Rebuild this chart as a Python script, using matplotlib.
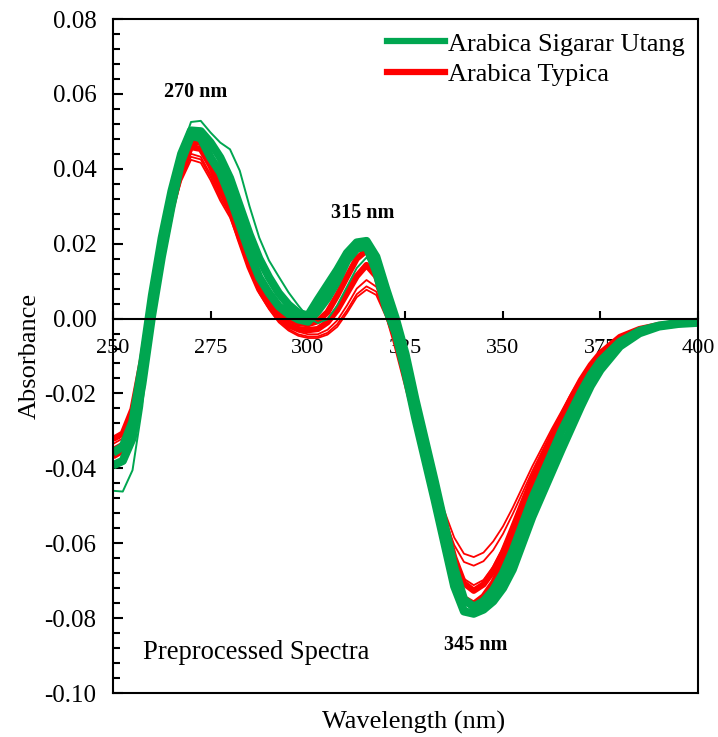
import matplotlib
matplotlib.use("Agg")
import matplotlib.pyplot as plt
from matplotlib.ticker import MultipleLocator, FormatStrFormatter
from matplotlib.lines import Line2D

plt.rcParams['font.family'] = ['Liberation Serif', 'DejaVu Serif']
plt.rcParams['axes.unicode_minus'] = False

wavelength = [250, 252.5, 255, 257.5, 260, 262.5, 265, 267.5, 270, 272.5, 275, 277.5, 280, 282.5,
              285, 287.5, 290, 292.5, 295, 297.5, 300, 302.5, 305, 307.5, 310, 312.5, 315, 317.5,
              320, 322.5, 325, 327.5, 330, 332.5, 335, 337.5, 340, 342.5, 345, 347.5, 350, 352.5,
              355, 357.5, 360, 362.5, 365, 367.5, 370, 372.5, 375, 380, 385, 390, 395, 400]

# Arabica Sigarar Utang (green): upper and lower edge of the main band, plus one outlier spectrum
sigarar_top = [-0.0358, -0.0342, -0.0275, -0.0120, 0.0062, 0.0215, 0.0340, 0.0440, 0.0502, 0.0500,
               0.0470, 0.0430, 0.0375, 0.0300, 0.0225, 0.0160, 0.0110, 0.0068, 0.0037, 0.0015,
               0.0008, 0.0050, 0.0090, 0.0130, 0.0175, 0.0203, 0.0207, 0.0165, 0.0080, 0.0000,
               -0.0095, -0.0215, -0.0325, -0.0435, -0.0550, -0.0665, -0.0750, -0.0770, -0.0755, -0.0725,
               -0.0680, -0.0620, -0.0550, -0.0480, -0.0420, -0.0360, -0.0300, -0.0248, -0.0196, -0.0150,
               -0.0113, -0.0062, -0.0033, -0.0019, -0.0012, -0.0009]
sigarar_bot = [-0.0392, -0.0380, -0.0320, -0.0175, 0.0008, 0.0165, 0.0300, 0.0420, 0.0488, 0.0482,
               0.0430, 0.0390, 0.0325, 0.0250, 0.0175, 0.0110, 0.0068, 0.0033, 0.0012, -0.0002,
               -0.0008, 0.0020, 0.0055, 0.0100, 0.0155, 0.0187, 0.0193, 0.0125, 0.0030, -0.0040,
               -0.0145, -0.0265, -0.0375, -0.0485, -0.0600, -0.0715, -0.0782, -0.0788, -0.0777, -0.0755,
               -0.0720, -0.0670, -0.0600, -0.0530, -0.0470, -0.0410, -0.0350, -0.0292, -0.0234, -0.0180,
               -0.0137, -0.0074, -0.0039, -0.0021, -0.0014, -0.0011]
sigarar_out = [-0.0460, -0.0462, -0.0405, -0.0235, 0.0005, 0.0178, 0.0330, 0.0450, 0.0525, 0.0528,
               0.0497, 0.0470, 0.0452, 0.0395, 0.0300, 0.0216, 0.0155, 0.0112, 0.0070, 0.0035,
               0.0003, -0.0012, -0.0002, 0.0035, 0.0085, 0.0135, 0.0163, 0.0135, 0.0050, -0.0050,
               -0.0155, -0.0265, -0.0375, -0.0485, -0.0600, -0.0715, -0.0785, -0.0795, -0.0780, -0.0758,
               -0.0722, -0.0672, -0.0602, -0.0532, -0.0472, -0.0412, -0.0350, -0.0292, -0.0235, -0.0182,
               -0.0139, -0.0075, -0.0040, -0.0022, -0.0014, -0.0011]

# Arabica Typica (red): upper and lower edge of the main band, plus three low spectra
typica_top = [-0.0322, -0.0307, -0.0242, -0.0107, 0.0053, 0.0197, 0.0320, 0.0415, 0.0472, 0.0470,
              0.0430, 0.0375, 0.0320, 0.0245, 0.0165, 0.0102, 0.0058, 0.0018, -0.0002, -0.0012,
              -0.0015, -0.0007, 0.0017, 0.0062, 0.0112, 0.0160, 0.0182, 0.0152, 0.0062, -0.0033,
              -0.0128, -0.0228, -0.0333, -0.0442, -0.0543, -0.0638, -0.0707, -0.0727, -0.0710, -0.0674,
              -0.0624, -0.0560, -0.0494, -0.0430, -0.0375, -0.0317, -0.0264, -0.0212, -0.0164, -0.0124,
              -0.0092, -0.0049, -0.0028, -0.0017, -0.0011, -0.0009]
typica_bot = [-0.0368, -0.0353, -0.0288, -0.0148, 0.0017, 0.0163, 0.0293, 0.0398, 0.0458, 0.0453,
              0.0408, 0.0348, 0.0293, 0.0213, 0.0138, 0.0078, 0.0037, 0.0002, -0.0018, -0.0028,
              -0.0031, -0.0028, -0.0010, 0.0023, 0.0068, 0.0113, 0.0143, 0.0113, 0.0028, -0.0062,
              -0.0162, -0.0262, -0.0367, -0.0472, -0.0577, -0.0677, -0.0747, -0.0762, -0.0742, -0.0705,
              -0.0652, -0.0587, -0.0522, -0.0457, -0.0398, -0.0338, -0.0282, -0.0228, -0.0176, -0.0134,
              -0.0099, -0.0053, -0.0031, -0.0019, -0.0012, -0.0010]
typica_low1 = [-0.0335, -0.0320, -0.0255, -0.0120, 0.0035, 0.0170, 0.0290, 0.0380, 0.0440, 0.0432,
               0.0385, 0.0330, 0.0285, 0.0215, 0.0140, 0.0080, 0.0035, 0.0000, -0.0022, -0.0035,
               -0.0042, -0.0042, -0.0030, -0.0005, 0.0035, 0.0080, 0.0103, 0.0085, 0.0020, -0.0060,
               -0.0150, -0.0245, -0.0340, -0.0430, -0.0515, -0.0585, -0.0628, -0.0637, -0.0625, -0.0595,
               -0.0555, -0.0505, -0.0450, -0.0395, -0.0345, -0.0295, -0.0248, -0.0200, -0.0157, -0.0120,
               -0.0090, -0.0048, -0.0028, -0.0017, -0.0011, -0.0009]
typica_low2 = [-0.0345, -0.0330, -0.0265, -0.0128, 0.0030, 0.0165, 0.0285, 0.0375, 0.0432, 0.0425,
               0.0378, 0.0322, 0.0278, 0.0208, 0.0135, 0.0075, 0.0030, -0.0005, -0.0028, -0.0042,
               -0.0048, -0.0048, -0.0038, -0.0015, 0.0022, 0.0065, 0.0086, 0.0072, 0.0012, -0.0065,
               -0.0155, -0.0250, -0.0348, -0.0442, -0.0532, -0.0605, -0.0650, -0.0660, -0.0648, -0.0618,
               -0.0575, -0.0522, -0.0465, -0.0408, -0.0355, -0.0303, -0.0254, -0.0205, -0.0160, -0.0122,
               -0.0092, -0.0049, -0.0028, -0.0017, -0.0011, -0.0009]
typica_low3 = [-0.0352, -0.0338, -0.0272, -0.0135, 0.0025, 0.0160, 0.0278, 0.0368, 0.0424, 0.0416,
               0.0370, 0.0315, 0.0270, 0.0200, 0.0128, 0.0068, 0.0025, -0.0010, -0.0032, -0.0046,
               -0.0052, -0.0052, -0.0043, -0.0022, 0.0015, 0.0057, 0.0077, 0.0063, 0.0005, -0.0070,
               -0.0160, -0.0258, -0.0360, -0.0458, -0.0555, -0.0640, -0.0695, -0.0712, -0.0698, -0.0662,
               -0.0612, -0.0552, -0.0490, -0.0428, -0.0372, -0.0317, -0.0265, -0.0213, -0.0166, -0.0126,
               -0.0094, -0.0050, -0.0029, -0.0018, -0.0011, -0.0009]

x_ticks = [250, 275, 300, 325, 350, 375, 400]
y_ticks = [-0.10, -0.08, -0.06, -0.04, -0.02, 0.00, 0.02, 0.04, 0.06, 0.08]

GREEN = '#00A650'
RED = '#FF0000'

fig = plt.figure(figsize=(7.18, 7.37), dpi=100)
ax = fig.add_axes([0.1574, 0.0597, 0.8147, 0.9145])

# red spectra
for s in (typica_low1, typica_low2, typica_low3):
    ax.plot(wavelength, s, color=RED, lw=1.3, zorder=2)
ax.plot(wavelength, typica_top, color=RED, lw=4.5, zorder=2, solid_capstyle='butt')
ax.plot(wavelength, typica_bot, color=RED, lw=4.5, zorder=2, solid_capstyle='butt')
# green spectra
ax.plot(wavelength, sigarar_top, color=GREEN, lw=6, zorder=3, solid_capstyle='butt')
ax.plot(wavelength, sigarar_bot, color=GREEN, lw=6, zorder=3, solid_capstyle='butt')
ax.plot(wavelength, sigarar_out, color=GREEN, lw=1.4, zorder=3)

ax.set_xlim(250, 400)
ax.set_ylim(-0.10, 0.08)

ax.spines['bottom'].set_position(('data', 0))
for sp in ax.spines.values():
    sp.set_linewidth(1.5)
    sp.set_zorder(5)
ax.plot([0, 1], [0, 0], transform=ax.transAxes, color='black', lw=1.5, clip_on=False, zorder=5)

ax.set_xticks(x_ticks)
ax.set_yticks(y_ticks)
ax.yaxis.set_major_formatter(FormatStrFormatter('%.2f'))
ax.yaxis.set_minor_locator(MultipleLocator(0.004))
ax.tick_params(axis='both', which='both', direction='in', top=False, right=False, width=1.5)
ax.tick_params(axis='y', which='major', length=7, labelsize=18, pad=12)
ax.tick_params(axis='y', which='minor', length=5)
ax.tick_params(axis='x', which='major', length=6, labelsize=16, pad=15)

ax.set_xlabel('Wavelength (nm)', fontsize=19)
ax.set_ylabel('Absorbance', fontsize=19)
ax.xaxis.set_label_coords(0.513, -0.026)
ax.yaxis.set_label_coords(-0.124, 0.50)

ax.text(271.3, 0.0604, '270 nm', fontsize=14.5, fontweight='bold', ha='center', va='center')
ax.text(314.0, 0.0281, '315 nm', fontsize=14.5, fontweight='bold', ha='center', va='center')
ax.text(343.1, -0.0871, '345 nm', fontsize=14.5, fontweight='bold', ha='center', va='center')
ax.text(257.7, -0.0891, 'Preprocessed Spectra', fontsize=19.2, ha='left', va='center')

handles = [Line2D([], [], color=GREEN, lw=4.5), Line2D([], [], color=RED, lw=4.5)]
ax.legend(handles, ['Arabica Sigarar Utang', 'Arabica Typica'], loc='upper right',
          frameon=False, fontsize=19, handlelength=2.2, handletextpad=0.12,
          labelspacing=0.27, borderaxespad=0.1, bbox_to_anchor=(1.0, 1.0))

fig.savefig('out.png', dpi=100)
